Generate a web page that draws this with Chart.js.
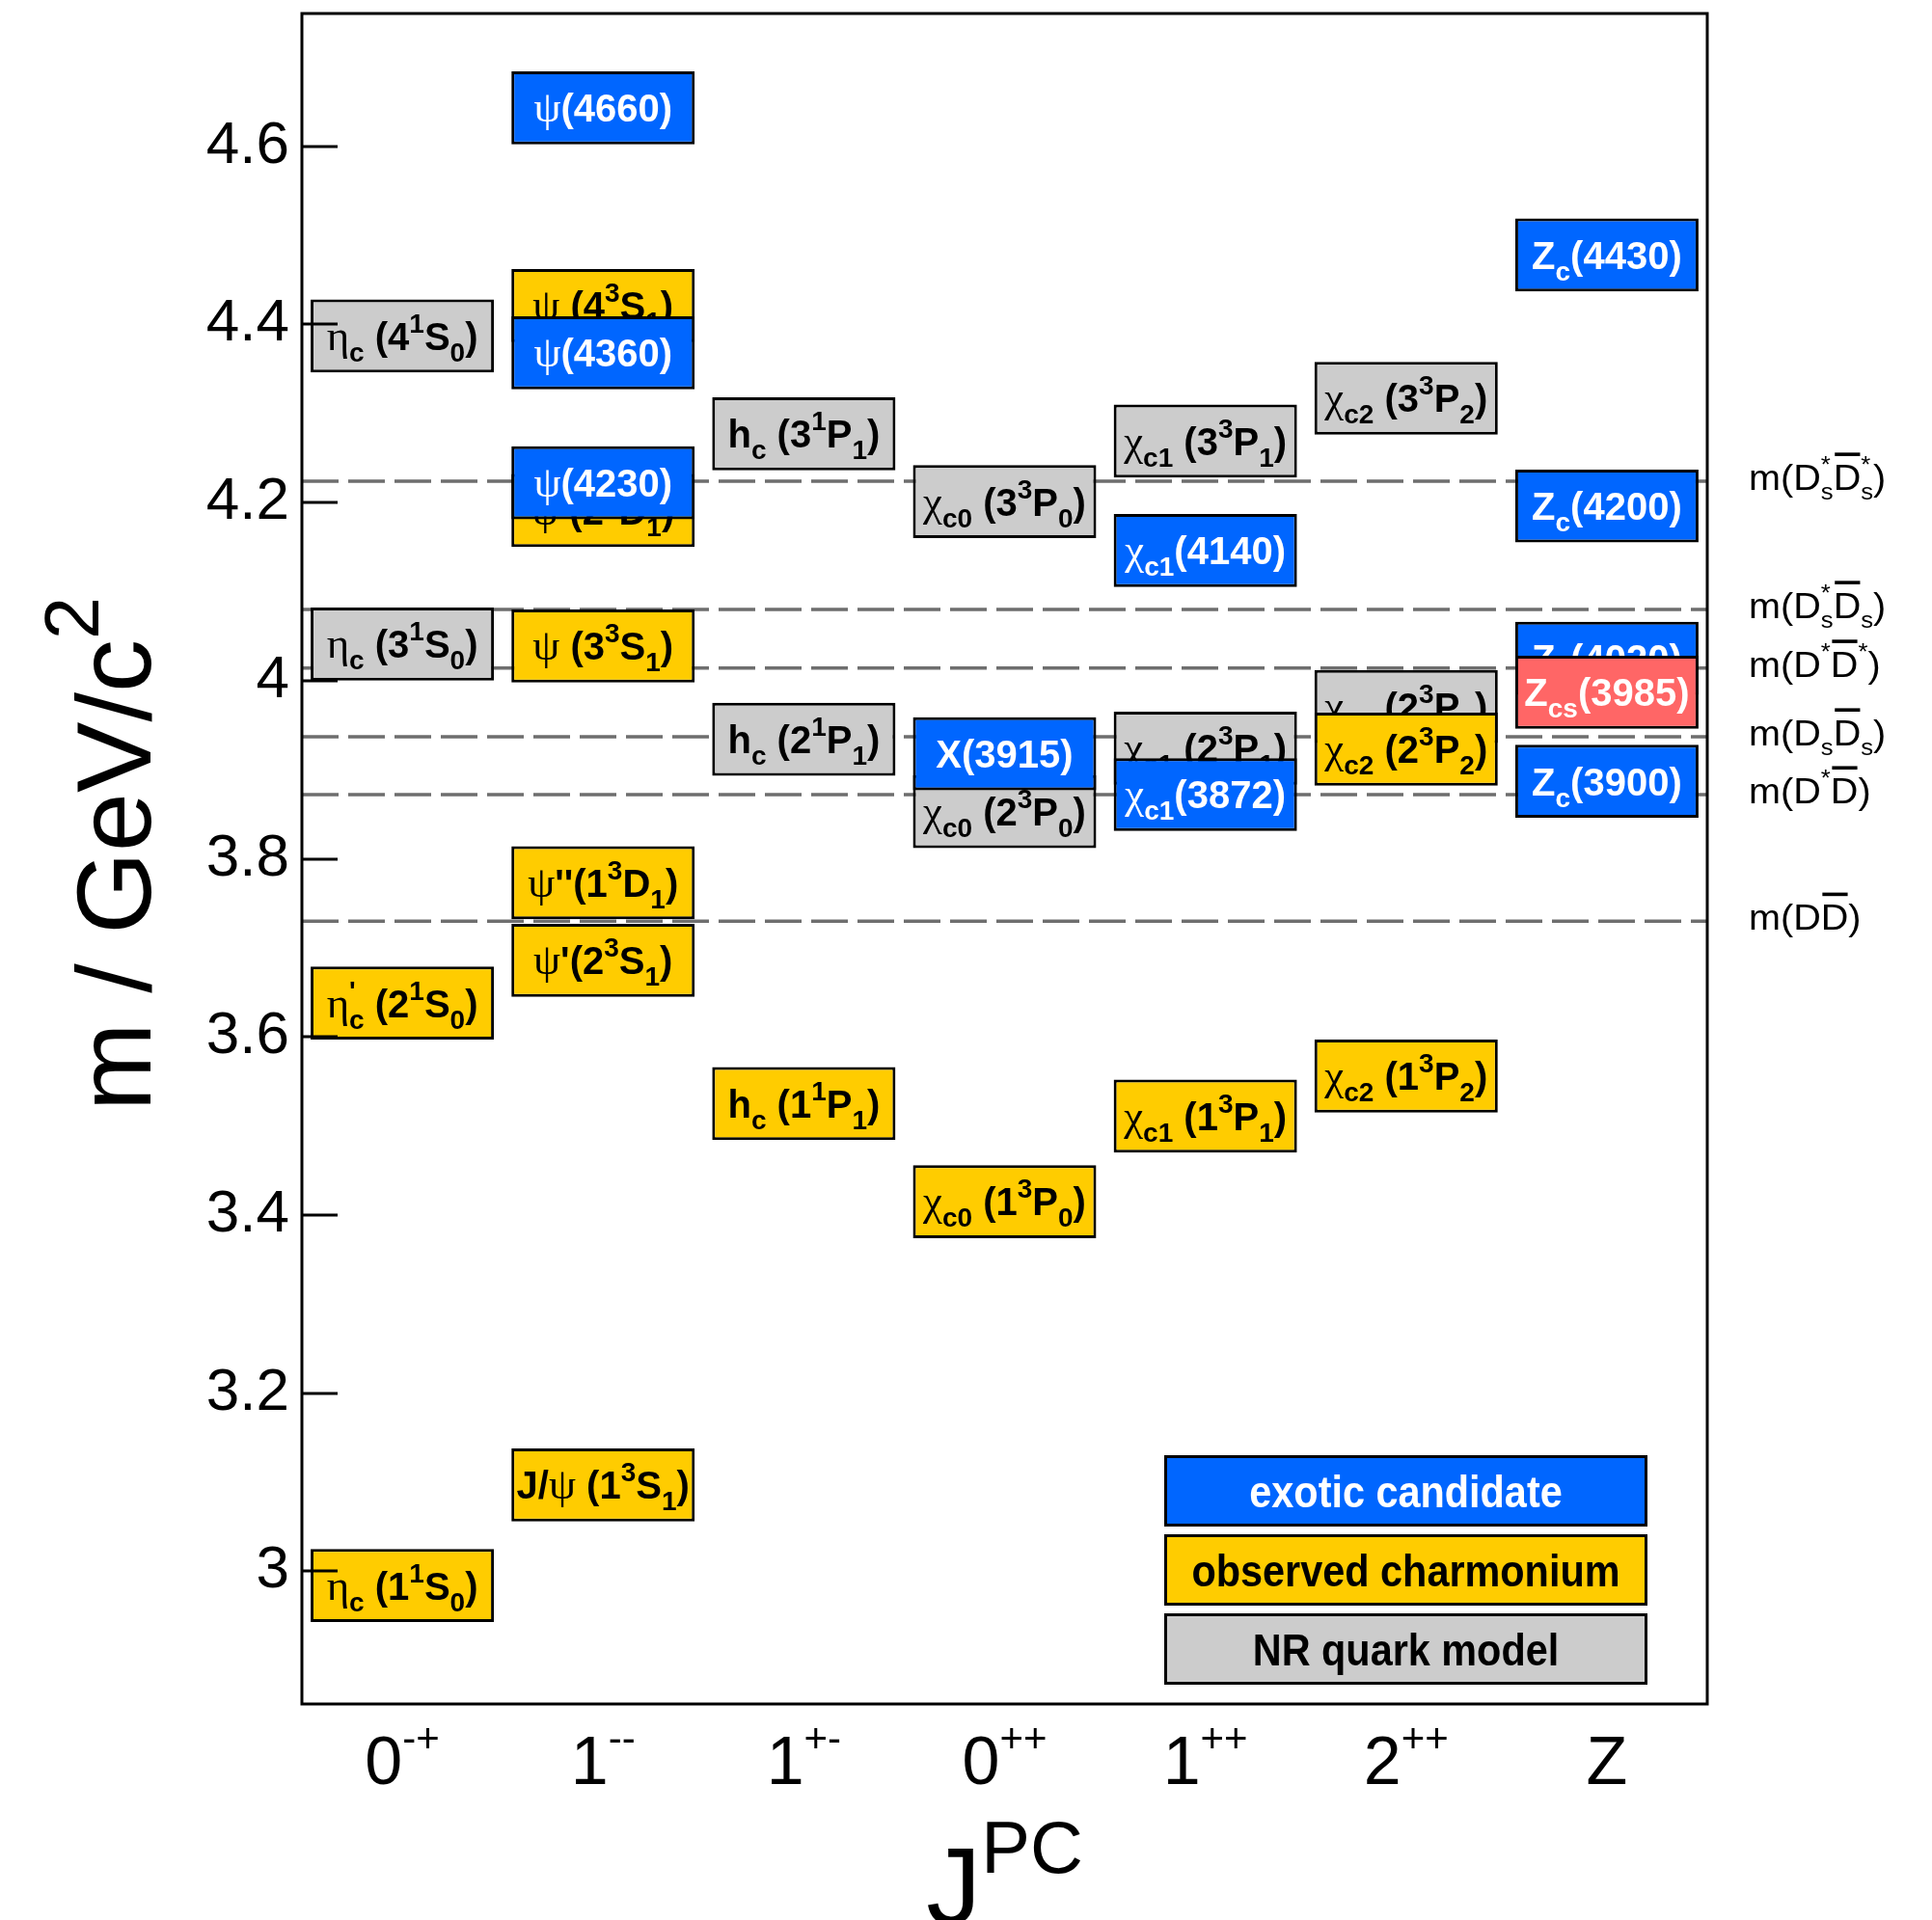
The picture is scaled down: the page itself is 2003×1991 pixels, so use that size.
<!DOCTYPE html>
<html>
<head>
<meta charset="utf-8">
<title>Charmonium spectrum</title>
<script src="https://cdn.jsdelivr.net/npm/chart.js@4.4.1/dist/chart.umd.min.js"></script>
<style>
  html, body { margin: 0; padding: 0; background: #fff; overflow: hidden; }
  canvas { display: block; }
</style>
</head>
<body>
<canvas id="spectrum" width="2003" height="1991"></canvas>
<script>
// ---- data -------------------------------------------------------------
const categories = ['0-+', '1--', '1+-', '0++', '1++', '2++', 'Z'];
const categoryLabels = ['0^{-+}', '1^{--}', '1^{+-}', '0^{++}', '1^{++}', '2^{++}', 'Z'];
const yTickValues = [3.0, 3.2, 3.4, 3.6, 3.8, 4.0, 4.2, 4.4, 4.6];

// NR quark model predictions (GeV)
const modelColumn = ['0-+', '0-+', '1+-', '1+-', '0++', '0++', '1++', '1++', '2++', '2++'];
const modelMass   = [4.041, 4.387, 3.934, 4.277, 3.853, 4.201, 3.924, 4.269, 3.971, 4.317];
const modelName   = ['#eta_{c} (3^{1}S_{0})', '#eta_{c} (4^{1}S_{0})', 'h_{c} (2^{1}P_{1})', 'h_{c} (3^{1}P_{1})',
                     '#chi_{c0} (2^{3}P_{0})', '#chi_{c0} (3^{3}P_{0})', '#chi_{c1} (2^{3}P_{1})', '#chi_{c1} (3^{3}P_{1})',
                     '#chi_{c2} (2^{3}P_{2})', '#chi_{c2} (3^{3}P_{2})'];

// observed charmonium states (GeV)
const observedColumn = ['0-+', '0-+', '1--', '1--', '1--', '1--', '1--', '1--', '1+-', '0++', '1++', '2++', '2++'];
const observedMass   = [2.984, 3.638, 3.097, 3.686, 3.773, 4.039, 4.191, 4.421, 3.525, 3.415, 3.511, 3.556, 3.923];
const observedName   = ['#eta_{c} (1^{1}S_{0})', "#eta_{c}^{'} (2^{1}S_{0})", 'J/#psi (1^{3}S_{1})', "#psi'(2^{3}S_{1})",
                        "#psi''(1^{3}D_{1})", '#psi (3^{3}S_{1})', '#psi (2^{3}D_{1})', '#psi (4^{3}S_{1})',
                        'h_{c} (1^{1}P_{1})', '#chi_{c0} (1^{3}P_{0})', '#chi_{c1} (1^{3}P_{1})', '#chi_{c2} (1^{3}P_{2})',
                        '#chi_{c2} (2^{3}P_{2})'];

// exotic candidates (GeV)
const exoticColumn = ['1--', '1--', '1--', '0++', '1++', '1++', 'Z', 'Z', 'Z', 'Z'];
const exoticMass   = [4.222, 4.368, 4.643, 3.918, 3.872, 4.146, 3.887, 4.025, 4.196, 4.478];
const exoticName   = ['#psi(4230)', '#psi(4360)', '#psi(4660)', 'X(3915)', '#chi_{c1}(3872)', '#chi_{c1}(4140)',
                      'Z_{c}(3900)', 'Z_{c}(4020)', 'Z_{c}(4200)', 'Z_{c}(4430)'];

// charged state with strangeness (GeV)
const strangeColumn = ['Z'];
const strangeMass   = [3.987];
const strangeName   = ['Z_{cs}(3985)'];

// open-charm thresholds (GeV)
const thresholdMass = [4.224, 4.080, 4.014, 3.937, 3.872, 3.730];
const thresholdName = ['m(D_{s}^{*}#bar{D}_{s}^{*})', 'm(D_{s}^{*}#bar{D}_{s})', 'm(D^{*}#bar{D}^{*})',
                       'm(D_{s}#bar{D}_{s})', 'm(D^{*}#bar{D})', 'm(D#bar{D})'];

const legendNames = ['exotic candidate', 'observed charmonium', 'NR quark model'];

// ---- style --------------------------------------------------------------
const BLUE = '#0066ff', YELLOW = '#ffcc00', GRAY = '#cccccc', RED = '#ff6666';
const BOX_HALF = 0.041;           // half height of a level box, GeV
const SANS = "'Liberation Sans', Arial, Helvetica, sans-serif";
const SERIF = "'Liberation Serif', 'DejaVu Serif', serif";

const boxStyle = { family: SANS, greekFamily: SERIF, greekScale: 1.12, bold: true, size: 40, scriptScale: 0.7, supRaise: 0.45, subDrop: 0.3, hScale: 1, barRaise: 0.95 };
const thresholdStyle = { family: SANS, greekFamily: SERIF, greekScale: 1, bold: false, size: 36, scriptScale: 0.65, supRaise: 0.5, subDrop: 0.28, hScale: 1.1, barRaise: 1.02, color: '#000' };
const xTickStyle = { family: SANS, greekFamily: SERIF, greekScale: 1, bold: false, size: 70, scriptScale: 0.6, supRaise: 0.47, subDrop: 0.3, hScale: 1, barRaise: 1, color: '#000' };
const yTitleStyle = { family: SANS, greekFamily: SERIF, greekScale: 1, bold: false, size: 110, scriptScale: 0.72, supRaise: 0.49, subDrop: 0.3, hScale: 1, barRaise: 1, color: '#000' };
const xTitleStyle = { family: SANS, greekFamily: SERIF, greekScale: 1, bold: false, size: 114, scriptScale: 0.667, supRaise: 0.465, subDrop: 0.3, hScale: 1, barRaise: 1, color: '#000' };
const legendStyle = { family: SANS, greekFamily: SERIF, greekScale: 1, bold: true, size: 46, scriptScale: 0.7, supRaise: 0.45, subDrop: 0.3, hScale: 0.9, barRaise: 1 };

// ---- small TLatex-like text renderer -------------------------------------
const GREEK = { eta: '\u03b7', psi: '\u03c8', chi: '\u03c7' };

function parseRich(src) {
  const segs = [];
  let i = 0;
  while (i < src.length) {
    const rest = src.slice(i);
    let m;
    if ((m = /^#bar\{([^}]*)\}/.exec(rest))) { segs.push({ text: m[1], script: 0, bar: true }); i += m[0].length; continue; }
    if ((m = /^#([a-z]+)/.exec(rest))) { segs.push({ text: GREEK[m[1]] || m[1], script: 0, greek: true }); i += m[0].length; continue; }
    if ((m = /^([_^])\{([^}]*)\}/.exec(rest))) { segs.push({ text: m[2], script: m[1] === '_' ? -1 : 1 }); i += m[0].length; continue; }
    m = /^[^#_^]+/.exec(rest);
    const t = m ? m[0] : rest[0];
    segs.push({ text: t, script: 0 });
    i += t.length;
  }
  return segs;
}

function fontOf(seg, size, st) {
  if (seg.greek) return `${size * st.greekScale}px ${st.greekFamily}`;
  return `${st.bold ? 'bold ' : ''}${size}px ${st.family}`;
}

// draws rich text with its baseline at y; returns drawn width
function drawRich(ctx, src, x, y, st, align) {
  const segs = parseRich(src);
  const items = [];
  let pos = 0;
  for (let k = 0; k < segs.length; k++) {
    const s = segs[k];
    const size = s.script ? st.size * st.scriptScale : st.size;
    ctx.font = fontOf(s, size, st);
    const w = ctx.measureText(s.text).width;
    items.push({ s, size, x: pos, w });
    const n = segs[k + 1];
    if (s.script && n && n.script && n.script !== s.script) {
      ctx.font = fontOf(n, size, st);
      const w2 = ctx.measureText(n.text).width;
      items.push({ s: n, size, x: pos, w: w2 });
      pos += Math.max(w, w2);
      k++;
    } else {
      pos += w;
    }
  }
  const total = pos * st.hScale;
  const x0 = align === 'left' ? x : align === 'right' ? x - total : x - total / 2;
  ctx.save();
  ctx.translate(x0, y);
  ctx.scale(st.hScale, 1);
  ctx.fillStyle = st.color;
  ctx.strokeStyle = st.color;
  ctx.textAlign = 'left';
  ctx.textBaseline = 'alphabetic';
  for (const it of items) {
    const dy = it.s.script === 1 ? -st.size * st.supRaise : it.s.script === -1 ? st.size * st.subDrop : 0;
    ctx.font = fontOf(it.s, it.size, st);
    ctx.fillText(it.s.text, it.x, dy);
    if (it.s.bar) {
      const yb = -st.size * st.barRaise;
      ctx.lineWidth = st.size * 0.1;
      ctx.beginPath();
      ctx.moveTo(it.x + st.size * 0.04, yb);
      ctx.lineTo(it.x + it.w - st.size * 0.02, yb);
      ctx.stroke();
    }
  }
  ctx.restore();
  return total;
}

// ---- plugins ------------------------------------------------------------
const thresholdPlugin = {
  id: 'thresholds',
  beforeDatasetsDraw(chart) {
    const { ctx, chartArea: a, scales: { y } } = chart;
    ctx.save();
    ctx.strokeStyle = '#6e6e6e';
    ctx.lineWidth = 3.5;
    ctx.setLineDash([38, 10]);
    thresholdMass.forEach(m => {
      const py = y.getPixelForValue(m);
      ctx.beginPath();
      ctx.moveTo(a.left, py);
      ctx.lineTo(a.right, py);
      ctx.stroke();
    });
    ctx.restore();
    thresholdName.forEach((t, i) => {
      const py = y.getPixelForValue(thresholdMass[i]);
      drawRich(ctx, t, a.right + 43, py + thresholdStyle.size * 0.36 - 4, thresholdStyle, 'left');
    });
  }
};

const boxLabelPlugin = {
  id: 'boxLabels',
  afterDatasetDraw(chart, args) {
    const ds = chart.data.datasets[args.index];
    const ctx = chart.ctx;
    const st = Object.assign({}, boxStyle, { color: ds.textColor });
    args.meta.data.forEach((el, i) => {
      const cy = (el.y + el.base) / 2;
      drawRich(ctx, ds.names[i], el.x, cy + st.size * 0.36, st, 'center');
    });
  }
};

const framePlugin = {
  id: 'frameAndAxes',
  afterDraw(chart) {
    const { ctx, chartArea: a, scales: { x, y } } = chart;
    ctx.save();
    ctx.strokeStyle = '#000';
    ctx.lineWidth = 3;
    ctx.strokeRect(a.left, a.top, a.right - a.left, a.bottom - a.top);
    // major ticks, drawn inward from the left frame
    y.ticks.forEach(t => {
      const py = Math.round(y.getPixelForValue(t.value));
      ctx.beginPath();
      ctx.moveTo(a.left, py);
      ctx.lineTo(a.left + 37, py);
      ctx.stroke();
    });
    ctx.restore();

    // J^PC category labels
    categoryLabels.forEach((lab, i) => {
      drawRich(ctx, lab, x.getPixelForValue(i), a.bottom + 83, xTickStyle, 'center');
    });

    // axis titles
    drawRich(ctx, 'J^{PC}', (a.left + a.right) / 2, a.bottom + 228, xTitleStyle, 'center');
    ctx.save();
    ctx.translate(156, (a.top + a.bottom) / 2 - 5);
    ctx.rotate(-Math.PI / 2);
    drawRich(ctx, 'm / GeV/c^{2}', 0, 0, yTitleStyle, 'center');
    ctx.restore();

    // colour key
    const fills = [BLUE, YELLOW, GRAY];
    const inks = ['#fff', '#000', '#000'];
    const left = a.right - 563, width = 501, height = 74;
    legendNames.forEach((name, i) => {
      const top = a.bottom - 258 + i * 82;
      ctx.save();
      ctx.fillStyle = fills[i];
      ctx.fillRect(left, top, width, height);
      ctx.strokeStyle = '#000';
      ctx.lineWidth = 3;
      ctx.strokeRect(left + 1.5, top + 1.5, width - 3, height - 3);
      ctx.restore();
      drawRich(ctx, name, left + width / 2, top + height / 2 + legendStyle.size * 0.36,
               Object.assign({}, legendStyle, { color: inks[i] }), 'center');
    });
  }
};

// ---- chart --------------------------------------------------------------
function levelBoxes(cols, masses) {
  return cols.map((c, i) => ({ x: c, y: [masses[i] - BOX_HALF, masses[i] + BOX_HALF] }));
}

const common = {
  borderColor: '#000',
  borderWidth: 3,
  borderSkipped: false,
  grouped: false,
  barPercentage: 0.913,
  categoryPercentage: 1.0
};

new Chart(document.getElementById('spectrum'), {
  type: 'bar',
  data: {
    labels: categories,
    datasets: [
      Object.assign({ label: 'Zcs', data: levelBoxes(strangeColumn, strangeMass), names: strangeName,
                      backgroundColor: RED, textColor: '#fff', order: 0 }, common),
      Object.assign({ label: legendNames[0], data: levelBoxes(exoticColumn, exoticMass), names: exoticName,
                      backgroundColor: BLUE, textColor: '#fff', order: 1 }, common),
      Object.assign({ label: legendNames[1], data: levelBoxes(observedColumn, observedMass), names: observedName,
                      backgroundColor: YELLOW, textColor: '#000', order: 2 }, common),
      Object.assign({ label: legendNames[2], data: levelBoxes(modelColumn, modelMass), names: modelName,
                      backgroundColor: GRAY, textColor: '#000', order: 3 }, common)
    ]
  },
  options: {
    responsive: false,
    animation: false,
    events: [],
    layout: { padding: { top: 14, right: 233, left: 0, bottom: 0 } },
    plugins: {
      legend: { display: false },
      tooltip: { enabled: false },
      title: { display: false }
    },
    scales: {
      x: {
        type: 'category',
        grid: { display: false },
        border: { display: false },
        ticks: { display: false },
        afterFit(s) { s.height = 224; s.paddingLeft = 0; s.paddingRight = 0; }
      },
      y: {
        type: 'linear',
        min: 2.851,
        max: 4.749,
        grid: { display: false },
        border: { display: false },
        afterBuildTicks(s) { s.ticks = yTickValues.map(v => ({ value: v })); },
        ticks: {
          padding: 5,
          color: '#000',
          font: { family: SANS, size: 62 },
          callback: v => String(Math.round(v * 10) / 10)
        },
        afterFit(s) { s.width = 313; s.paddingTop = 0; s.paddingBottom = 0; }
      }
    }
  },
  plugins: [thresholdPlugin, boxLabelPlugin, framePlugin]
});
</script>
</body>
</html>
